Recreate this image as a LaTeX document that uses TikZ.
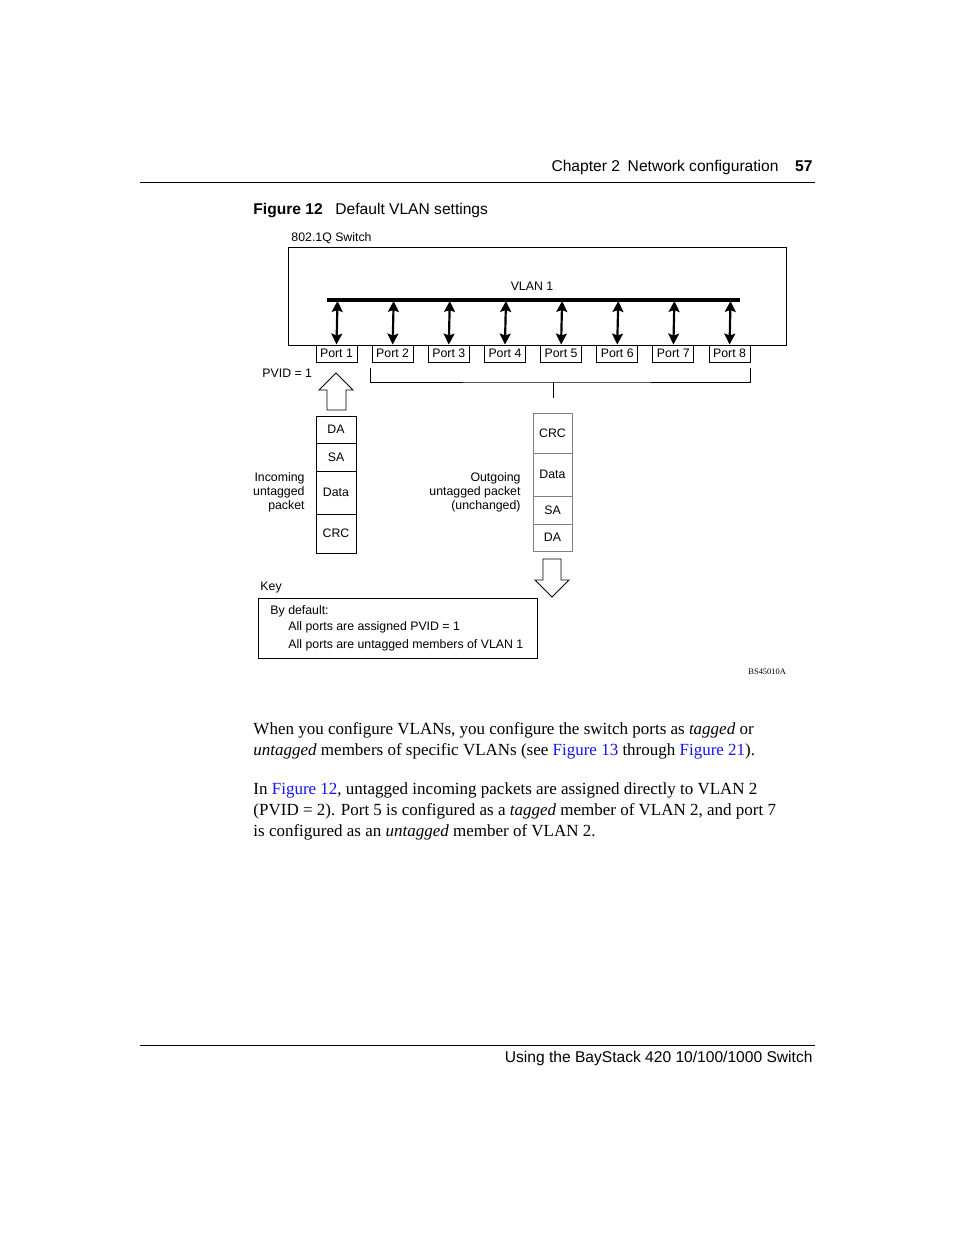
\documentclass[tikz,border=0pt]{standalone}
\usepackage{fontspec}
\setmainfont{Liberation Serif}
\setsansfont{Liberation Sans}
\usetikzlibrary{positioning,arrows.meta}

\def\pxu{0.6415pt}
\definecolor{linkblue}{RGB}{20,20,235}
\definecolor{outgray}{gray}{0.5}

\begin{document}
\begin{tikzpicture}[x=\pxu, y=-\pxu, line width=0.6pt,
    lbl/.style={font=\sffamily\fontsize{7.9}{9}\selectfont, inner sep=0pt},
    portbox/.style={lbl, draw, minimum width=41*\pxu, minimum height=17*\pxu},
    field/.style={lbl, draw, minimum width=40*\pxu},
    vlanarrow/.style={line width=1.4pt, {Stealth[length=7pt,width=7pt,inset=1.2pt]}-{Stealth[length=7pt,width=7pt,inset=1.2pt]}},
    hdr/.style={font=\sffamily\fontsize{10}{12}\selectfont, inner sep=0pt},
    body/.style={font=\fontsize{10.9}{13.5}\selectfont, inner sep=0pt, anchor=base west}]
  \useasboundingbox (0,0) rectangle (954,1235);

  % page header and caption
  \node[hdr, anchor=base east] (chap) at (779,171) {Chapter 2\enspace Network configuration};
  \node[hdr, anchor=base east, font=\sffamily\bfseries\fontsize{10}{12}\selectfont] (pgno) at (813,171) {57};
  \draw (140,182) -- (815,182);
  \node[hdr, anchor=base west, font=\sffamily\bfseries\fontsize{10}{12}\selectfont] (fignum) at (253,214) {Figure 12};
  \node[hdr, anchor=base west] (figtitle) at (335,214) {Default VLAN settings};

  % switch with VLAN 1 bus
  \node[lbl, anchor=west] (swlabel) at (291,238) {802.1Q Switch};
  \node[draw, inner sep=0pt, minimum width=498*\pxu, minimum height=98*\pxu] (switch) at (537,296) {};
  \node[lbl] (vlan) at (532,286) {VLAN 1};
  \coordinate (busW) at (327,300);
  \coordinate (busE) at (740,300);
  \draw[line width=2pt] (busW) -- (busE);

  % ports
  \foreach \i in {1,...,8} {
    \node[portbox] (port\i) at ({336.5+(\i-1)*56.15},353.5) {Port \i};
    \coordinate (bus\i) at ({337.5+(\i-1)*56.15},301);
    \draw[vlanarrow] (bus\i) -- (port\i.north);
  }

  % bracket over ports 2-8
  \coordinate (brL) at (370,368);
  \coordinate (brR) at (750,368);
  \coordinate (brM) at (553,382);
  \coordinate (brS) at (553,398);
  \draw (brL) |- (brM) -| (brR);
  \draw (brM) -- (brS);

  % incoming side
  \node[lbl, anchor=west] (pvid) at (262,373) {PVID = 1};
  \draw (327,410) -- (327,390) -- (319,390) -- (336,373) -- (353,390) -- (346,390) -- (346,410) -- cycle;
  \node[field, minimum height=27*\pxu] (inDA) at (336,429.5) {DA};
  \node[field, minimum height=28*\pxu] (inSA) at (336,457) {SA};
  \node[field, minimum height=43*\pxu] (inData) at (336,492.5) {Data};
  \node[field, minimum height=39*\pxu] (inCRC) at (336,533.5) {CRC};
  \node[lbl, align=right, anchor=east] (inlabel) at (305,492.5) {Incoming\\untagged\\packet};

  % outgoing side
  \node[field, draw=outgray, minimum width=39*\pxu, minimum height=40*\pxu] (outCRC) at (552.5,433) {CRC};
  \node[field, draw=outgray, minimum width=39*\pxu, minimum height=43*\pxu] (outData) at (552.5,474.5) {Data};
  \node[field, draw=outgray, minimum width=39*\pxu, minimum height=28*\pxu] (outSA) at (552.5,510) {SA};
  \node[field, draw=outgray, minimum width=39*\pxu, minimum height=27*\pxu] (outDA) at (552.5,537.5) {DA};
  \node[lbl, align=right, anchor=east] (outlabel) at (521,492.5) {Outgoing\\untagged packet\\(unchanged)};
  \draw (543,559) -- (543,580) -- (535,580) -- (552,597) -- (569,580) -- (561,580) -- (561,559) -- cycle;

  % key
  \node[lbl, anchor=west] (key) at (260,588) {Key};
  \node[draw, inner sep=0pt, minimum width=279*\pxu, minimum height=60*\pxu] (keybox) at (397.5,628) {};
  \node[lbl, anchor=west] (key1) at (270,611) {By default:};
  \node[lbl, anchor=west] (key2) at (288,627) {All ports are assigned PVID = 1};
  \node[lbl, anchor=west] (key3) at (288,645) {All ports are untagged members of VLAN 1};
  \node[inner sep=0pt, anchor=west, font=\fontsize{5.4}{6}\selectfont] (figid) at (748,672) {BS45010A};

  % body text
  \node[body] (t1) at (253,734) {When you configure VLANs, you configure the switch ports as \textit{tagged} or};
  \node[body] (t2) at (253,755) {\textit{untagged} members of specific VLANs (see \textcolor{linkblue}{Figure 13} through \textcolor{linkblue}{Figure 21}).};
  \node[body] (t3) at (253,794) {In \textcolor{linkblue}{Figure 12}, untagged incoming packets are assigned directly to VLAN 2};
  \node[body] (t4) at (253,815) {(PVID = 2). Port 5 is configured as a \textit{tagged} member of VLAN 2, and port 7};
  \node[body] (t5) at (253,836) {is configured as an \textit{untagged} member of VLAN 2.};

  % footer
  \draw (140,1045) -- (815,1045);
  \node[hdr, anchor=base east] (foot) at (813,1062) {Using the BayStack 420 10/100/1000 Switch};
\end{tikzpicture}
\end{document}
